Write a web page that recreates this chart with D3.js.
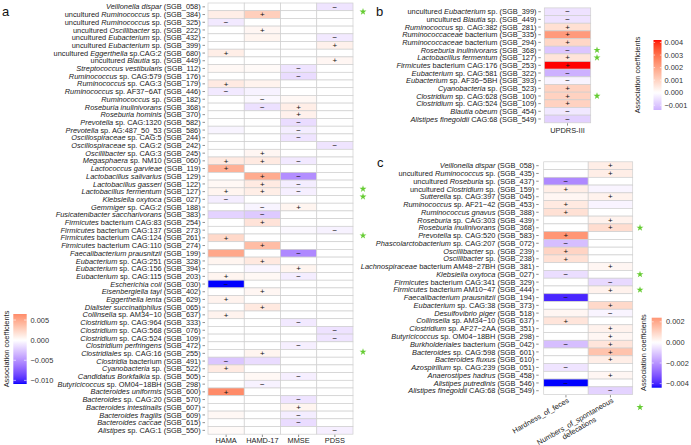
<!DOCTYPE html>
<html><head><meta charset="utf-8">
<script src="https://cdn.jsdelivr.net/npm/d3@7"></script>
<style>body{margin:0;background:#fff} svg{display:block} text{font-family:"Liberation Sans",Arial,sans-serif}</style>
</head><body><svg id="c" width="691" height="445"></svg>
<script>
// ---------------- DATA ----------------
const aRows = [
"*Veillonella dispar* (SGB_058)","uncultured *Ruminococcus* sp. (SGB_384)","uncultured *Ruminococcus* sp. (SGB_325)",
"uncultured *Oscillibacter* sp. (SGB_222)","uncultured *Eubacterium* sp. (SGB_432)","uncultured *Eubacterium* sp. (SGB_399)",
"uncultured *Eggerthella* sp.CAG:2 (SGB_680)","uncultured *Blautia* sp. (SGB_449)","*Streptococcus vestibularis* (SGB_112)",
"*Ruminococcus* sp. CAG:579 (SGB_176)","*Ruminococcus* sp. CAG:3 (SGB_179)","*Ruminococcus* sp. AF37−6AT (SGB_446)",
"*Ruminococcus* sp. (SGB_182)","*Roseburia inulinivorans* (SGB_368)","*Roseburia hominis* (SGB_370)",
"*Prevotella* sp. CAG:1320 (SGB_582)","*Prevotella* sp. AG:487_50_53 (SGB_586)","*Oscillospiraceae* sp. CAG:5 (SGB_244)",
"*Oscillospiraceae* sp. CAG:2 (SGB_242)","*Oscillibacter* sp. CAG:3 (SGB_245)","*Megasphaera* sp. NM10 (SGB_060)",
"*Lactococcus garvieae* (SGB_119)","*Lactobacillus salivarius* (SGB_129)","*Lactobacillus gasseri* (SGB_122)",
"*Lactobacillus fermentum* (SGB_127)","*Klebsiella oxytoca* (SGB_027)","*Gemmiger* sp. CAG:2 (SGB_188)",
"*Fusicatenibacter saccharivorans* (SGB_383)","*Firmicutes* bacterium CAG:83 (SGB_254)","*Firmicutes* bacterium CAG:137 (SGB_273)",
"*Firmicutes* bacterium CAG:124 (SGB_261)","*Firmicutes* bacterium CAG:110 (SGB_274)","*Faecalibacterium prausnitzii* (SGB_199)",
"*Eubacterium* sp. CAG:251 (SGB_328)","*Eubacterium* sp. CAG:156 (SGB_394)","*Eubacterium* sp. CAG:115 (SGB_203)",
"*Escherichia coli* (SGB_030)","*Eisenbergiella tayi* (SGB_402)","*Eggerthella lenta* (SGB_629)",
"*Dialister succinatiphilus* (SGB_065)","*Collinsella* sp. AM34−10 (SGB_637)","*Clostridium* sp. CAG:964 (SGB_333)",
"*Clostridium* sp. CAG:568 (SGB_076)","*Clostridium* sp. CAG:524 (SGB_109)","*Clostridium perfringens* (SGB_472)",
"*Clostridiales* sp. CAG:16 (SGB_255)","*Clostridia* bacterium (SGB_491)","*Cyanobacteria* sp. (SGB_522)",
"*Candidatus Borkfalkia* sp. (SGB_505)","*Butyricicoccus* sp. OM04−18BH (SGB_298)","*Bacteroides uniformis* (SGB_600)",
"*Bacteroides* sp. CAG:20 (SGB_570)","*Bacteroides intestinalis* (SGB_607)","*Bacteroides fragilis* (SGB_609)",
"*Bacteroides caccae* (SGB_615)","*Alistipes* sp. CAG:1 (SGB_550)"];
const aCols = ["HAMA","HAMD-17","MMSE","PDSS"];
const aHAMA = [0,0.0010,-0.0010,0,0,0,0.0010,0,0.0004,0,0.0012,-0.0010,0,0,0,0,-0.0005,0,0,0,0.0012,0.0045,0,0.0004,0.0006,-0.0008,0,-0.0020,0,0,0.0022,0,0.0050,0.0006,0,0.0006,-0.0109,0,0.0007,0,0.0007,0,0,0,0,0,-0.0026,0.0012,0,0,0.0065,0,0,0.0004,0,0.0003];
const aHAMD = [0,0.0028,0,0.0005,0.0006,0,0,0,0.0003,0,0.0007,-0.0006,-0.0003,-0.0014,0,0,0,0,0,0.0005,0.0012,0,0.0048,0.0012,0.0010,0,-0.0005,-0.0024,0.0016,0,0,0.0038,0,0.0013,-0.0004,0.0004,0,0.0005,0,0.0013,0,0,0,0,0,0.0006,-0.0016,0,0.0004,-0.0006,0,0,0,0,0,0];
const aMMSE = [0,0,0,0,0,0,0,0,-0.0012,-0.0016,0,0,0.0004,0.0010,0.0008,-0.0016,-0.0008,-0.0012,0,0,-0.0010,0,-0.0052,-0.0008,-0.0007,0,0.0006,0,0,-0.0003,0,0,-0.0055,0,0.0006,-0.0008,0,0,0,0,0,-0.0010,0,0,-0.0007,0,0,0,-0.0007,0,0,-0.0012,0.0006,-0.0008,-0.0016,0];
const aPDSS = [-0.0012,0,0,0,-0.0010,0.0008,0,0.0005,0,0,0,0,0,0,0,0,0,0,-0.0012,0,0,0,0,0,0,0,0,0,0,-0.0006,0,0,0,0,0,0,0,0,0,0,0,0,-0.0013,-0.0012,0,0,0,0,0,0,0,0,0,0,0,-0.0007];
const aSigHAMA = [0,0,1,0,0,0,1,0,0,0,1,1,0,0,0,0,0,0,0,0,1,1,0,0,1,1,0,0,0,0,1,0,0,0,0,1,1,0,1,0,1,0,0,0,0,0,1,1,0,0,1,0,0,0,0,0];
const aSigHAMD = [0,1,0,1,0,0,0,0,0,0,0,0,1,1,0,0,0,0,0,1,1,0,1,1,1,0,1,1,1,0,0,1,0,1,0,0,0,1,0,1,0,0,0,0,0,1,0,0,0,1,0,0,0,0,0,0];
const aSigMMSE = [0,0,0,0,0,0,0,0,1,1,0,0,0,1,1,1,1,1,0,0,1,0,1,1,1,0,1,0,0,0,0,0,1,0,1,1,0,0,0,0,0,1,0,0,1,0,0,0,1,0,0,1,1,1,1,0];
const aSigPDSS = [1,0,0,0,1,1,0,1,0,0,0,0,0,0,0,0,0,0,1,0,0,0,0,0,0,0,0,0,0,1,0,0,0,0,0,0,0,0,0,0,0,0,1,1,0,0,0,0,0,0,0,0,0,0,0,1];

const bRows = ["uncultured *Eubacterium* sp. (SGB_399)","uncultured *Blautia* sp. (SGB_449)","*Ruminococcus* sp. CAG:382 (SGB_281)",
"*Ruminococcaceae* bacterium (SGB_335)","*Ruminococcaceae* bacterium (SGB_294)","*Roseburia inulinivorans* (SGB_368)",
"*Lactobacillus fermentum* (SGB_127)","*Firmicutes* bacterium CAG:176 (SGB_253)","*Eubacterium* sp. CAG:581 (SGB_322)",
"*Eubacterium* sp. AF36−5BH (SGB_393)","*Cyanobacteria* sp. (SGB_523)","*Clostridium* sp. CAG:628 (SGB_100)",
"*Clostridium* sp. CAG:524 (SGB_109)","*Blautia obeum* (SGB_454)","*Alistipes finegoldii* CAG:68 (SGB_549)"];
const bCols = ["UPDRS-III"];
const bUPDRS = [-0.0005,-0.0005,0.0007,0.0022,0.0009,-0.0010,0.0006,0.0042,-0.00138,-0.0002,0.0010,0.0010,0.0010,-0.0004,-0.0008];
const bSigUPDRS = [1,1,1,1,1,1,1,1,1,1,1,1,1,1,1];

const cRows = ["*Veillonella dispar* (SGB_058)","uncultured *Ruminococcus* sp. (SGB_435)","uncultured *Roseburia* sp. (SGB_437)",
"uncultured *Clostridium* sp. (SGB_159)","*Sutterella* sp. CAG:397 (SGB_045)","*Ruminococcus* sp. AF21−42 (SGB_453)",
"*Ruminococcus gnavus* (SGB_388)","*Roseburia* sp. CAG:303 (SGB_439)","*Roseburia inulinivorans* (SGB_368)",
"*Prevotella* sp. CAG:520 (SGB_583)","*Phascolarctobacterium* sp. CAG:207 (SGB_072)","*Oscillibacter* sp. (SGB_239)",
"*Oscillibacter* sp. (SGB_238)","*Lachnospiraceae* bacterium AM48−27BH (SGB_381)","*Klebsiella oxytoca* (SGB_027)",
"*Firmicutes* bacterium CAG:341 (SGB_329)","*Firmicutes* bacterium AM10−47 (SGB_444)","*Faecalibacterium prausnitzii* (SGB_194)",
"*Eubacterium* sp. CAG:38 (SGB_373)","*Desulfovibrio piger* (SGB_518)","*Collinsella* sp. AM34−10 (SGB_637)",
"*Clostridium* sp. AF27−2AA (SGB_351)","*Butyricicoccus* sp. OM04−18BH (SGB_298)","*Burkholderiales* bacterium (SGB_042)",
"*Bacteroides* sp. CAG:598 (SGB_601)","*Bacteroides fluxus* (SGB_610)","*Azospirillum* sp. CAG:239 (SGB_051)",
"*Anaerostipes hadrus* (SGB_458)","*Alistipes putredinis* (SGB_546)","*Alistipes finegoldii* CAG:68 (SGB_549)"];
const cCols = ["Hardness_of_feces","Numbers_of_spontaneous\ndefecations"];
const cHard = [0,0,-0.0022,0.0004,0.0002,0.0005,0.0007,0,0,0.0024,-0.0012,0.0010,0.0007,0,-0.0006,0,0,-0.0040,0,0.0002,0.0006,0,0,-0.0012,0,0,-0.0005,0,-0.0044,0];
const cNum  = [0.0004,0.0004,0,-0.0002,0.0003,-0.0002,0,0.0003,0.0008,0,0,0,0,0.0002,0,-0.0007,0.0003,0,0.0009,-0.0002,0,0.0003,0.0002,0.0006,0.0014,0.0004,0,0.0002,0,-0.0008];
const cSigHard = [0,0,1,1,0,1,1,0,0,1,1,1,1,0,1,0,0,1,0,0,1,0,0,1,0,0,1,0,1,0];
const cSigNum  = [1,1,0,0,1,0,0,1,1,0,0,0,0,1,0,1,1,0,1,1,0,1,1,1,1,1,0,1,0,1];

// legend ticks
const aLegTicks = [-0.010,-0.005,0.000,0.005];
const bLegTicks = [-0.001,0.000,0.001,0.002,0.003,0.004];
const cLegTicks = [-0.004,-0.002,0.000,0.002];

// star markers: [panel, rowIndex, side]
const starMarks = [["b",0,"L"],["c",3,"L"],["c",4,"L"],["c",9,"L"],["c",24,"L"],["a",52,"R"],
                   ["b",5,"R"],["b",6,"R"],["b",11,"R"],["c",8,"R"],["c",14,"R"],["c",16,"R"]];

// ---------------- DRAW ----------------
const svg = d3.select("#c");
const FS = 7.4, TXT = "#1a1a1a", TICK = "#444";

function makeColor(M){
  const pos = d3.interpolateLab("#ffffff","#ff0000"), neg = d3.interpolateLab("#ffffff","#0000ff");
  return v => v >= 0 ? pos(Math.min(1, v/M)) : neg(Math.min(1, -v/M));
}
function richText(sel, s){
  s.split("*").forEach((p,i)=>{ if(p.length) sel.append("tspan").attr("font-style", i%2 ? "italic" : "normal").text(p); });
}
function heatmap(o){
  const g = svg.append("g");
  const x = d3.scaleBand().domain(o.cols).range([o.x0,o.x1]);
  const y = d3.scaleBand().domain(d3.range(o.rows.length)).range([o.y0,o.y1]);
  const cells = [];
  o.cols.forEach((c,j)=> o.rows.forEach((r,i)=> cells.push({c, i, v:o.values[j][i], s:o.sigs[j][i]})));
  g.selectAll("rect").data(cells).join("rect")
    .attr("x", d=>x(d.c)).attr("y", d=>y(d.i)).attr("width", x.bandwidth()).attr("height", y.bandwidth())
    .attr("fill", d=>o.color(d.v)).attr("stroke","#cfcfcf").attr("stroke-width",0.7);
  g.selectAll("text.sig").data(cells.filter(d=>d.s)).join("text").attr("class","sig")
    .attr("x", d=>x(d.c)+x.bandwidth()/2).attr("y", d=>y(d.i)+y.bandwidth()/2+2.7)
    .attr("text-anchor","middle").attr("font-size",8).attr("fill","#111")
    .text(d=> d.v >= 0 ? "+" : "−");
  o.rows.forEach((r,i)=>{
    const cy = y(i)+y.bandwidth()/2;
    g.append("line").attr("x1",o.x0-o.tg-2.5).attr("x2",o.x0-o.tg).attr("y1",cy).attr("y2",cy).attr("stroke",TICK).attr("stroke-width",0.6);
    const t = g.append("text").attr("x",o.x0-o.tg-4.3).attr("y",cy+2.6).attr("text-anchor","end")
      .attr("font-size",FS).attr("fill",TXT);
    richText(t, r);
  });
  o.cols.forEach(c=>{
    const cx = x(c)+x.bandwidth()/2;
    g.append("line").attr("x1",cx).attr("x2",cx).attr("y1",o.y1+0.5).attr("y2",o.y1+2.8).attr("stroke",TICK).attr("stroke-width",0.6);
  });
  return {x,y,g};
}
function legend(o){
  const id = "grad"+o.id;
  const grad = svg.append("defs").append("linearGradient").attr("id",id).attr("x1",0).attr("x2",0).attr("y1",1).attr("y2",0);
  d3.range(0,1.0001,0.02).forEach(t=>{
    const v = o.min + t*(o.max-o.min);
    grad.append("stop").attr("offset",t).attr("stop-color",o.color(v));
  });
  const ys = d3.scaleLinear().domain([o.min,o.max]).range([o.y1,o.y0]);
  svg.append("rect").attr("x",o.x0).attr("y",o.y0).attr("width",o.x1-o.x0).attr("height",o.y1-o.y0).attr("fill",`url(#${id})`);
  const bw = o.x1-o.x0;
  o.ticks.forEach(tv=>{
    const yy = ys(tv);
    svg.append("line").attr("x1",o.x0).attr("x2",o.x0+bw/5).attr("y1",yy).attr("y2",yy).attr("stroke","#fff").attr("stroke-width",0.6);
    svg.append("line").attr("x1",o.x1-bw/5).attr("x2",o.x1).attr("y1",yy).attr("y2",yy).attr("stroke","#fff").attr("stroke-width",0.6);
    svg.append("text").attr("x",o.lx).attr("y",yy+2.6).attr("font-size",FS).attr("fill","#333")
      .text(d3.format(".3f")(tv).replace("-","−"));
  });
  svg.append("text").attr("transform",`translate(${o.tx},${(o.y0+o.y1)/2}) rotate(-90)`)
    .attr("text-anchor","middle").attr("font-size",FS).attr("fill","#222").text("Association coefficients");
}

// panel a
const colA = makeColor(0.0109);
const A = heatmap({rows:aRows, cols:aCols, values:[aHAMA,aHAMD,aMMSE,aPDSS], sigs:[aSigHAMA,aSigHAMD,aSigMMSE,aSigPDSS],
  x0:208, x1:353, y0:3, y1:434.2, color:colA, tg:3});
aCols.forEach(c=> svg.append("text").attr("x",A.x(c)+A.x.bandwidth()/2).attr("y",443).attr("text-anchor","middle")
  .attr("font-size",FS).attr("fill",TXT).text(c));
legend({id:"a", min:-0.0109, max:0.0065, color:colA, x0:13.3, x1:26.7, y0:314, y1:384, ticks:aLegTicks, lx:30.5, tx:9});

// panel b
const colB = makeColor(0.0042);
const B = heatmap({rows:bRows, cols:bCols, values:[bUPDRS], sigs:[bSigUPDRS],
  x0:544.3, x1:590.7, y0:7.9, y1:122.8, color:colB, tg:3.5});
svg.append("text").attr("x",B.x(bCols[0])+B.x.bandwidth()/2).attr("y",133).attr("text-anchor","middle")
  .attr("font-size",FS).attr("fill",TXT).text(bCols[0]);
legend({id:"b", min:-0.00138, max:0.0042, color:colB, x0:653.5, x1:661.5, y0:40, y1:110, ticks:bLegTicks, lx:664.5, tx:640});

// panel c
const colC = makeColor(0.0044);
const C = heatmap({rows:cRows, cols:cCols, values:[cHard,cNum], sigs:[cSigHard,cSigNum],
  x0:543.7, x1:632.7, y0:161.8, y1:394.6, color:colC, tg:5});
cCols.forEach(c=>{
  const cx = C.x(c)+C.x.bandwidth()/2, lines = c.split("\n");
  const gt = svg.append("g").attr("transform",`translate(${cx+1},${397.5}) rotate(-30)`);
  const t1 = gt.append("text").attr("font-size",FS).attr("fill",TXT);
  const s1 = t1.append("tspan").attr("x",0).attr("y",5).attr("text-anchor","end").text(lines[0]);
  if(lines[1]){
    const w = s1.node().getComputedTextLength();
    t1.append("tspan").attr("x",-w/2).attr("y",5+7.8).attr("text-anchor","middle").text(lines[1]);
  }
});
legend({id:"c", min:-0.0044, max:0.0024, color:colC, x0:651.7, x1:661.7, y0:317.7, y1:387.7, ticks:cLegTicks, lx:666, tx:646});

// panel letters
[["a",2,16],["b",376,16],["c",377,167]].forEach(([s,x,y])=>
  svg.append("text").attr("x",x).attr("y",y).attr("font-size",13).attr("fill","#111").text(s));

// stars
const panels = {a:A, b:B, c:C};
const star = d3.symbol().type(d3.symbolStar).size(15);
starMarks.forEach(([p,i,side])=>{
  const P = panels[p];
  const cy = P.y(i)+P.y.bandwidth()/2;
  const sx = side==="L" ? 363 : (p==="b" ? 597 : 640);
  svg.append("path").attr("d",star()).attr("transform",`translate(${sx},${cy})`).attr("fill","#66cc33");
});
</script></body></html>
